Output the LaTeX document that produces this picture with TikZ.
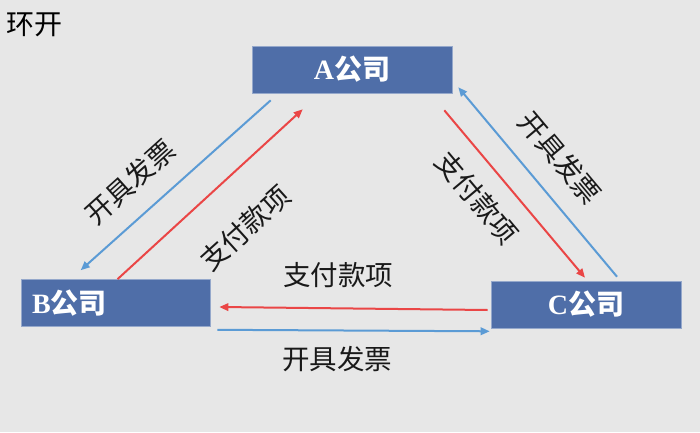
\documentclass[tikz,border=0pt]{standalone}
\usepackage{fontspec}
\setmainfont{Liberation Serif}
\newfontfamily\cjk{Noto Sans CJK SC}
\usepackage{tikz}
\usetikzlibrary{arrows.meta, calc}

\definecolor{boxblue}{RGB}{79,110,168}
\definecolor{invoiceblue}{RGB}{91,155,213}
\definecolor{payred}{RGB}{234,70,70}
\definecolor{bggray}{RGB}{231,231,231}

\begin{document}
\begin{tikzpicture}[
  x=1pt, y=1pt,
  company/.style={rectangle, draw=boxblue!60!white, line width=0.6pt, fill=boxblue, text=white, minimum width=200pt, minimum height=47pt, inner sep=0pt, font=\fontsize{28}{32}\selectfont\bfseries},
  tag/.style={font=\cjk\fontsize{27.5}{30}\selectfont, text=black!90, inner sep=0pt},
  pay/.style={-{Triangle[length=9pt, width=7.5pt]}, draw=payred, line width=2pt},
  invoice/.style={-{Triangle[length=9pt, width=7.5pt]}, draw=invoiceblue, line width=2pt}
]

% Background
\fill[bggray] (0,0) rectangle (700,432);
\useasboundingbox (0,0) rectangle (700,432);

% Title
\node[tag, anchor=west, font=\cjk\fontsize{28}{30}\selectfont, text=black] (title) at (6,407) {环开};

% Companies
\node[company] (A) at (352,362.5) {A{\cjk 公司}};
\node[company, minimum width=189pt, text width=167pt, align=left, inner xsep=11pt] (B) at (115.5,129) {B{\cjk 公司}};
\node[company, minimum width=190pt] (C) at (586,127.5) {C{\cjk 公司}};

% A -- B
\draw[invoice] ($(A.south west)+(19,-7)$) -- ($(B.north west)+(60,9)$);
\draw[pay] ($(B.north)+(2,0)$) -- ($(A.south west)+(51,-16)$);

% A -- C
\draw[pay] ($(A.south east)+(-8,-17)$) -- ($(C.north)+(-1,3)$);
\draw[invoice] ($(C.north)+(31,4)$) -- ($(A.south east)+(6,6)$);

% C -- B
\draw[pay] ($(C.west)+(-3,-5.5)$) -- ($(B.east)+(9,-4)$);
\draw[invoice] ($(B.south east)+(7,-3)$) -- ($(C.south west)+(-1,-3)$);

% Labels
\node[tag, rotate=42] (invAB) at (130,250) {开具发票};
\node[tag, rotate=42] (payBA) at (245,204) {支付款项};
\node[tag, rotate=-50] (invCA) at (560,274) {开具发票};
\node[tag, rotate=-50] (payAC) at (477,234) {支付款项};
\node[tag] (payCB) at (338,157) {支付款项};
\node[tag] (invBC) at (337,73) {开具发票};

\end{tikzpicture}
\end{document}
